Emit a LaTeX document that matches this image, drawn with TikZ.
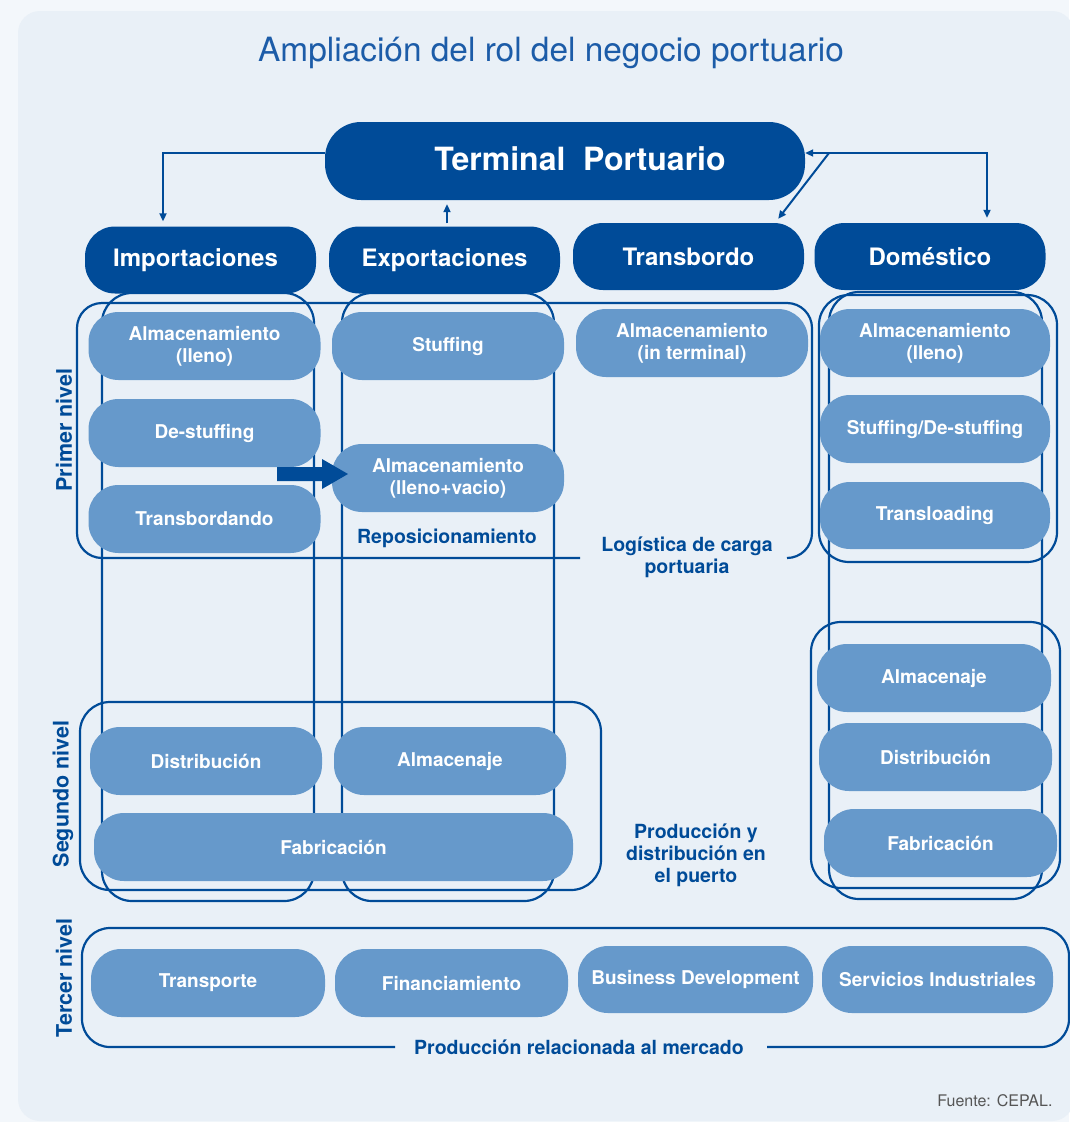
\documentclass[tikz,border=0pt]{standalone}
\usepackage{fontspec}
\setmainfont{TeX Gyre Heros}
\usetikzlibrary{arrows.meta}
\definecolor{dblue}{HTML}{004B98}
\definecolor{lblue}{HTML}{6699CB}
\definecolor{panel}{HTML}{E9F0F7}
\definecolor{outer}{HTML}{F3F7FB}
\definecolor{titleblue}{HTML}{1C5CA8}
\definecolor{srcgray}{HTML}{555555}
\begin{document}
\begin{tikzpicture}[x=1pt,y=-1pt,
  lbox/.style={fill=lblue, text=white, rounded corners=30pt, minimum width=232pt, minimum height=68pt, inner sep=0pt, align=center, font=\fontsize{19}{22}\selectfont\bfseries},
  hbox/.style={fill=dblue, text=white, rounded corners=30pt, minimum width=231pt, minimum height=67pt, inner sep=0pt, font=\fontsize{24}{27}\selectfont\bfseries},
  frame/.style={draw=dblue, line width=2.2pt, rounded corners=30pt},
  lab/.style={text=dblue, align=center, font=\fontsize{19.5}{22}\selectfont\bfseries},
  lvl/.style={text=dblue, rotate=90, font=\fontsize{21.5}{24}\selectfont\bfseries},
  arr/.style={draw=dblue, line width=2pt, -{Triangle[length=8pt,width=7pt]}},
  arrb/.style={draw=dblue, line width=2pt, {Triangle[length=8pt,width=7pt]}-{Triangle[length=8pt,width=7pt]}}]
\useasboundingbox (0,0) rectangle (1069,1122);
\fill[outer] (0,0) rectangle (1069,1122);
\fill[panel, rounded corners=22pt] (18,11) rectangle (1074,1121);

% title
\node[text=titleblue, font=\fontsize{33.4}{37}\selectfont] (title) at (551,53) {Ampliación del rol del negocio portuario};

% frames
\draw[frame] (102,293) rectangle (314,901);
\draw[frame] (342,293) rectangle (554,901);
\draw[frame] (829,292) rectangle (1042,899);
\draw[frame] (819,295) rectangle (1057,562);
\draw[frame] (811,622) rectangle (1060,888);
\draw[frame] (80,702) rectangle (601,890);
\draw[frame, rounded corners=25pt] (580,558) -- (77,558) -- (77,303) -- (812,303) -- (812,558) -- (787,558);
\draw[frame, rounded corners=28pt] (395,1047) -- (82,1047) -- (82,928) -- (1069,928) -- (1069,1047) -- (767,1047);

% top level
\node[fill=dblue, text=white, rounded corners=36pt, minimum width=480pt, minimum height=78pt, inner sep=0pt, font=\fontsize{32}{35}\selectfont\bfseries] (term) at (565,161) {\hspace*{30pt}\raisebox{4pt}{Terminal\ \ Portuario}};
\node[hbox] (imp) at (200.5,260) {\hspace*{-10pt}\raisebox{-2pt}{Importaciones}};
\node[hbox] (exp) at (444.5,260) {\raisebox{-2pt}{Exportaciones}};
\node[hbox] (tra) at (688.5,256.5) {\raisebox{-3pt}{Transbordo}};
\node[hbox] (dom) at (930,256.5) {Doméstico};

% arrows
\coordinate (impc) at (163,153);
\coordinate (domc) at (987,153);
\coordinate (trs) at (829,153);
\draw[arr] (term.west |- impc) -| ([yshift=5pt]imp.north -| impc);
\path ([yshift=-4pt]term.south) coordinate (ts);
\draw[arr] ([xshift=2.5pt,yshift=3pt]exp.north) coordinate (es) -- (es |- ts);
\draw[arrb] (term.east |- domc) -| ([yshift=5pt]dom.north -| domc);
\draw[arr] (trs) -- ([xshift=-26pt,yshift=4pt]tra.north east);

% primer nivel boxes
\node[lbox] (imp1) at (204.5,346) {Almacenamiento\\(lleno)};
\node[lbox] (imp2) at (204.5,433) {De-stuffing};
\node[lbox] (imp3) at (204.5,519) {Transbordando};
\node[lbox] (exp1) at (448,346) {Stuffing};
\node[lbox] (exp2) at (448,478) {Almacenamiento\\(lleno+vacio)};
\node[lbox] (tr1) at (692,343) {Almacenamiento\\(in terminal)};
\node[lbox, minimum width=230pt] (dom1) at (935,343) {Almacenamiento\\(lleno)};
\node[lbox, minimum width=230pt] (dom2) at (935,429) {Stuffing/De-stuffing};
\node[lbox, minimum width=230pt, minimum height=67pt] (dom3) at (935,515.5) {Transloading};

% block arrow
\fill[dblue] (277,467) -- (322,467) -- (322,459) -- (348,474) -- (322,489) -- (322,481) -- (277,481) -- cycle;

\node[lab] (repo) at (447,538) {Reposicionamiento};
\node[lab] (logi) at (687,557) {Logística de carga\\portuaria};

% segundo nivel
\node[lbox, minimum width=234pt] (dom4) at (934,678) {\raisebox{-6pt}{Almacenaje}};
\node[lbox, minimum width=233pt] (dom5) at (935.5,757) {Distribución};
\node[lbox, minimum width=233pt] (dom6) at (940.5,843) {Fabricación};
\node[lbox] (s1) at (206,761) {Distribución};
\node[lbox] (s2) at (450,761) {\raisebox{-4pt}{Almacenaje}};
\node[lbox, minimum width=479pt] (s3) at (333.5,847) {Fabricación};
\node[lab] (prod) at (696,855) {Producción y\\distribución en\\el puerto};

% tercer nivel
\node[lbox, minimum width=234pt] (t1) at (208,983) {Transporte};
\node[lbox, minimum width=233pt] (t2) at (451.5,983) {Financiamiento};
\node[lbox, minimum width=235pt, minimum height=67pt] (t3) at (695.5,979.5) {Business Development};
\node[lbox, minimum width=231pt, minimum height=67pt] (t4) at (937.5,979.5) {Servicios Industriales};
\node[lab] (merc) at (579,1047) {Producción relacionada al mercado};

% level labels
\node[lvl] (l1) at (64,430) {Primer nivel};
\node[lvl] (l2) at (63,794) {Segundo nivel};
\node[lvl] (l3) at (64,978) {Tercer nivel};

\node[text=srcgray, anchor=east, font=\fontsize{16}{18}\selectfont] (src) at (1056,1101) {Fuente: CEPAL.};
\end{tikzpicture}
\end{document}
